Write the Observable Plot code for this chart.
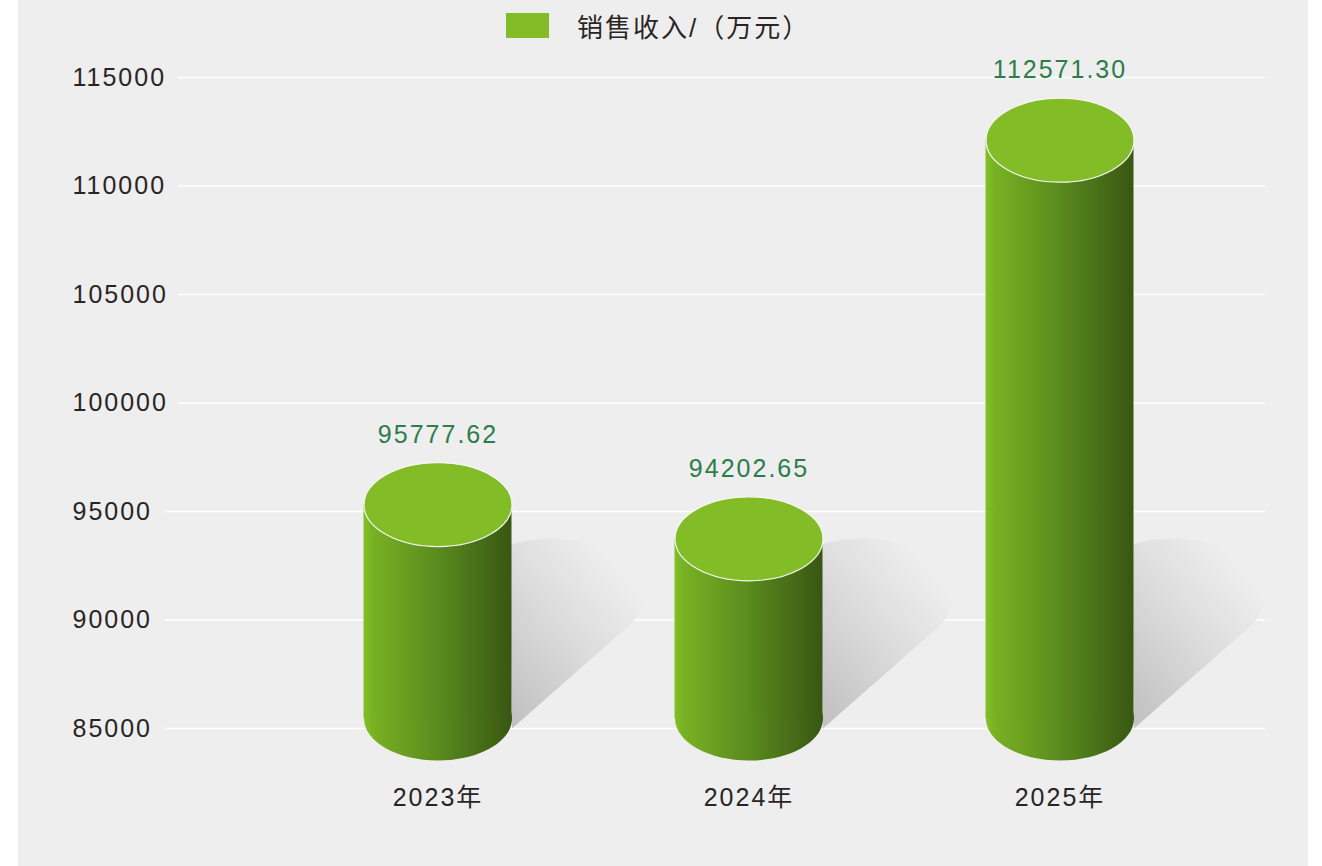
<!DOCTYPE html>
<html>
<head>
<meta charset="utf-8">
<script src="https://cdn.jsdelivr.net/npm/d3@7"></script>
<script src="https://cdn.jsdelivr.net/npm/@observablehq/plot@0.6"></script>
<style>
  html, body { margin: 0; padding: 0; background: #ffffff; }
  #wrap { position: relative; width: 1322px; height: 866px; overflow: hidden; }
  #panel { position: absolute; left: 18px; top: 0; width: 1290px; height: 866px; background: #eeeeee; }
  #legend { position: absolute; left: 506px; top: 0; height: 50px; display: flex; align-items: center;
            font-family: "Liberation Sans", "Noto Sans CJK SC", sans-serif; font-size: 26px; color: #2a2525; letter-spacing: 2px; }
  #legend .sw { width: 43px; height: 25px; background: #82bd27; margin-right: 28px; }
  #chart { position: absolute; left: 0; top: 0; }
  #chart svg { background: transparent; overflow: visible; }
  #chart svg text { font-family: "Liberation Sans", "Noto Sans CJK SC", sans-serif; letter-spacing: 2px; }
</style>
</head>
<body>
<svg width="0" height="0" style="position:absolute">
  <defs>
    <linearGradient id="sideGrad" x1="0" y1="0" x2="1" y2="0">
      <stop offset="0" stop-color="#83c026"/>
      <stop offset="0.06" stop-color="#78b123"/>
      <stop offset="0.5" stop-color="#5a8b1e"/>
      <stop offset="1" stop-color="#385712"/>
    </linearGradient>
    <linearGradient id="shadowGrad" x1="0.05" y1="0.95" x2="0.75" y2="0.1">
      <stop offset="0" stop-color="#c2c2c2"/>
      <stop offset="0.55" stop-color="#dcdcdc"/>
      <stop offset="1" stop-color="#eeeeee"/>
    </linearGradient>
  </defs>
</svg>
<div id="wrap">
  <div id="panel"></div>
  <div id="chart"></div>
  <div id="legend"><div class="sw"></div><span>销售收入/（万元）</span></div>
</div>
<script>
// ---- data ----
const years = ["2023年", "2024年", "2025年"];
const sales = [95777.62, 94202.65, 112571.30];
const yTicks = [85000, 90000, 95000, 100000, 105000, 110000, 115000];
const seriesName = "销售收入/（万元）";

const yBase = yTicks[0];
const rows = years.map((year, i) => ({year, value: sales[i], base: yBase}));
const shortTicks = yTicks.filter(t => String(t).length < 6);
const longTicks = yTicks.filter(t => String(t).length >= 6);

// ---- shapes (symbol drawers) ----
const RX = 74, RY = 42;
function ellipseSymbol(rx, ry) {
  const k = 0.5523;
  return {
    draw(ctx) {
      ctx.moveTo(rx, 0);
      ctx.bezierCurveTo(rx, k * ry, k * rx, ry, 0, ry);
      ctx.bezierCurveTo(-k * rx, ry, -rx, k * ry, -rx, 0);
      ctx.bezierCurveTo(-rx, -k * ry, -k * rx, -ry, 0, -ry);
      ctx.bezierCurveTo(k * rx, -ry, rx, -k * ry, rx, 0);
      ctx.closePath();
    }
  };
}
const shadowSymbol = {
  draw(ctx) {
    // cast shadow: ellipse up-right of the base joined to the base corner
    const cx = 113, cy = -133, rx = 92, ry = 57;
    ctx.moveTo(RX, 0);
    ctx.lineTo(RX - 2, -185);
    const steps = 60;
    const t0 = -Math.acos((RX - 2 - cx) / rx);
    const t1 = 0.55;
    for (let i = 0; i <= steps; i++) {
      const t = t0 + (t1 - t0) * i / steps;
      ctx.lineTo(cx + rx * Math.cos(t), cy + ry * Math.sin(t));
    }
    ctx.lineTo(RX, 0);
    ctx.closePath();
  }
};

const chart = Plot.plot({
  width: 1322,
  height: 866,
  marginTop: 77,
  marginBottom: 138,
  marginLeft: 165,
  marginRight: 57,
  style: {background: "transparent", color: "#2a2525", fontSize: "25px"},
  x: {type: "band", domain: years, range: [281.5, 1214.5], padding: 0, tickSize: 0, tickPadding: 60, label: null},
  y: {domain: [yTicks[0], yTicks[yTicks.length - 1]], axis: null},
  marks: [
    Plot.ruleY(shortTicks, {stroke: "#ffffff", strokeWidth: 1.5}),
    Plot.ruleY(longTicks, {stroke: "#ffffff", strokeWidth: 1.5, insetLeft: 13}),
    Plot.text(yTicks, {y: d => d, text: d => String(d), frameAnchor: "left", textAnchor: "start",
                       dx: -93, fill: "#2a2525", fontSize: 25}),
    Plot.dot(rows, {x: "year", y: "base", symbol: shadowSymbol, fill: "url(#shadowGrad)", stroke: null}),
    Plot.dot(rows, {x: "year", y: "base", dy: -10, symbol: ellipseSymbol(RX, RY), fill: "url(#sideGrad)", stroke: null}),
    Plot.barY(rows, {x: "year", y1: "base", y2: "value", insetLeft: 81.5, insetRight: 81.5,
                     insetTop: 10, insetBottom: 10, fill: "url(#sideGrad)"}),
    Plot.dot(rows, {x: "year", y: "value", dy: 10, symbol: ellipseSymbol(RX, RY), fill: "#82bd27",
                    stroke: "#f6f6f2", strokeWidth: 1.2}),
    Plot.text(rows, {x: "year", y: "value", dy: -60, text: d => d3.format(".2f")(d.value),
                     fill: "#2c7c4c", fontSize: 25})
  ]
});
document.getElementById("chart").appendChild(chart);
</script>
</body>
</html>
